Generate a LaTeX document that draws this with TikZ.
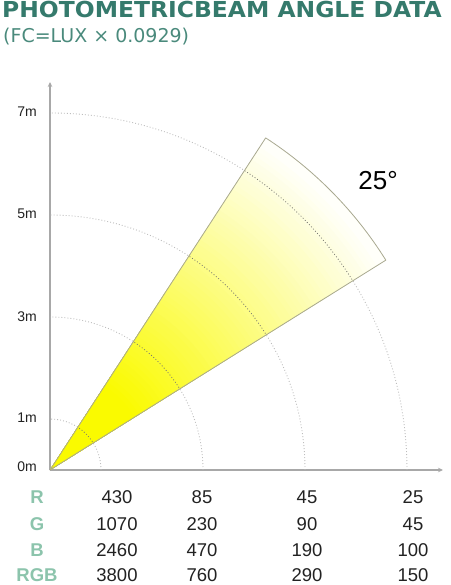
\documentclass[tikz,border=0pt]{standalone}
\usepackage{fontspec}
\setmainfont{Liberation Sans}
\newfontfamily\titlefont{DejaVu Sans}
\usetikzlibrary{arrows.meta}
\definecolor{titlecol}{HTML}{357A6C}
\definecolor{subcol}{HTML}{4A8A7C}
\definecolor{rowcol}{HTML}{8CC4AC}
\definecolor{axiscol}{HTML}{A8A8A8}
\definecolor{arccol}{HTML}{BDBDBD}
\definecolor{arcdark}{HTML}{7A7A70}
\definecolor{edgecol}{HTML}{A8A890}
\definecolor{txtcol}{HTML}{222222}
\definecolor{beamyellow}{HTML}{FAFA00}
\begin{document}
\begin{tikzpicture}[x=1pt,y=1pt,
  axline/.style={draw=axiscol, line width=1.4pt},
  arcline/.style={draw=arccol, line width=0.9pt, dash pattern=on 0.9pt off 2.1pt},
  arcin/.style={draw=arcdark, line width=0.8pt, dash pattern=on 0.9pt off 2.1pt},
  beamedge/.style={draw=edgecol, line width=0.8pt, line join=round},
  axlab/.style={anchor=east, inner sep=0pt, text=txtcol, font=\fontsize{14}{14}\selectfont},
  num/.style={inner sep=0pt, text=txtcol, font=\fontsize{18.5}{18.5}\selectfont},
  rowlab/.style={inner sep=0pt, text=rowcol, font=\fontsize{18.5}{18.5}\selectfont\bfseries}
]
\useasboundingbox (0,0) rectangle (450,585);
\coordinate (O) at (50,115);
\coordinate (ytop) at (50,503);
\coordinate (xend) at (443,115);
% axes
\draw[axline, -{Stealth[length=5pt,width=4.5pt]}] (O) -- (ytop);
\draw[axline, -{Stealth[length=5pt,width=4.5pt]}] (O) -- (xend);
% arcs
\foreach \r in {51,153,255,357}{
  \draw[arcline] (O) ++(0:\r) arc[start angle=0,end angle=90,radius=\r];
}
% beam
\begin{scope}
\clip (O) -- ++(32:396) arc[start angle=32,end angle=57,radius=396] -- cycle;
\foreach \i in {81,...,1}{
  \pgfmathtruncatemacro{\rr}{\i*5}
  \pgfmathtruncatemacro{\pp}{max(2,min(100,135-0.34*\rr))}
  \fill[beamyellow!\pp!white] (O) circle[radius=\rr];
}
\foreach \r in {51,153,255,357}{
  \draw[arcin] (O) ++(0:\r) arc[start angle=0,end angle=90,radius=\r];
}
\end{scope}
\draw[beamedge] (O) -- ++(32:396) arc[start angle=32,end angle=57,radius=396] -- cycle;
% angle label
\node[inner sep=0pt, text=black, font=\fontsize{26}{26}\selectfont] (ang) at (378,404) {25°};
% axis labels
\node[axlab] (l7) at (37,473) {7m};
\node[axlab] (l5) at (37,371) {5m};
\node[axlab] (l3) at (37,268) {3m};
\node[axlab] (l1) at (37,167) {1m};
\node[axlab] (l0) at (37,118) {0m};
% title
\node[anchor=north west, inner sep=0pt, text=titlecol, xscale=1.065, font=\titlefont\bfseries\fontsize{22}{22}\selectfont] (title) at (2,584) {PHOTOMETRICBEAM ANGLE DATA};
\node[anchor=north west, inner sep=0pt, text=subcol, font=\titlefont\fontsize{19}{19}\selectfont] (sub) at (3,557) {(FC=LUX × 0.0929)};
% table
\node[rowlab] (hR) at (37,88) {R};
\node[rowlab] (hG) at (37,61) {G};
\node[rowlab] (hB) at (37,35) {B};
\node[rowlab] (hRGB) at (37,10) {RGB};
\node[num] (r1) at (117,88) {430};
\node[num] (r2) at (202,88) {85};
\node[num] (r3) at (307,88) {45};
\node[num] (r4) at (413,88) {25};
\node[num] (g1) at (117,61) {1070};
\node[num] (g2) at (202,61) {230};
\node[num] (g3) at (307,61) {90};
\node[num] (g4) at (413,61) {45};
\node[num] (b1) at (117,35) {2460};
\node[num] (b2) at (202,35) {470};
\node[num] (b3) at (307,35) {190};
\node[num] (b4) at (413,35) {100};
\node[num] (c1) at (117,10) {3800};
\node[num] (c2) at (202,10) {760};
\node[num] (c3) at (307,10) {290};
\node[num] (c4) at (413,10) {150};
\end{tikzpicture}
\end{document}
